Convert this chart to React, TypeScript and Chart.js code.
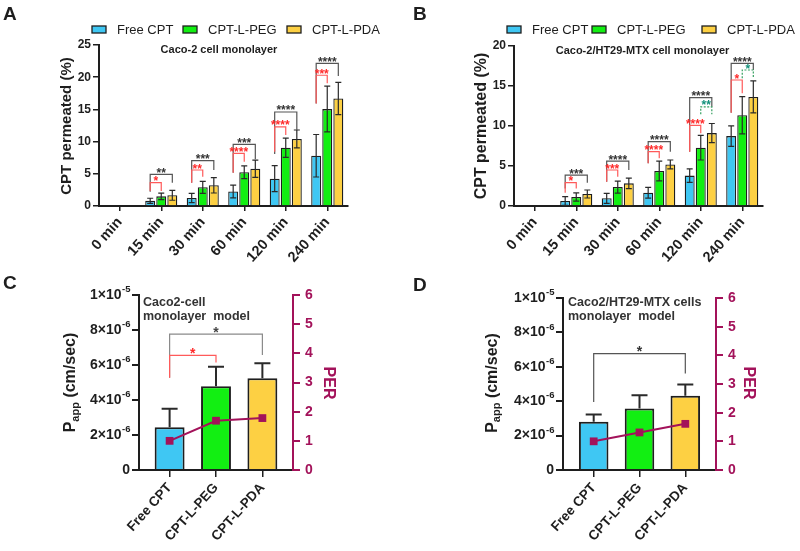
import React, { useEffect, useRef } from 'react';
import { Chart, registerables } from 'chart.js';

Chart.register(...registerables);

const FONT = "'Liberation Sans', Arial, Helvetica, sans-serif";
Chart.defaults.font.family = FONT;
const INK = '#1e1e1e';
const PER_COLOR = '#a3125a';

// ---------------- data ----------------
const timeLabels = ['0 min', '15 min', '30 min', '60 min', '120 min', '240 min'];
const seriesNames = ['Free CPT', 'CPT-L-PEG', 'CPT-L-PDA'];
const seriesColors = ['#3fc7f3', '#12ef12', '#fdd043'];

// Panel A: Caco-2 cell monolayer, CPT permeated (%)
const freeA = [0, 0.8, 1.24, 2.25, 4.24, 7.8];
const pegA = [0, 1.5, 2.9, 5.24, 9.05, 15.05];
const pdaA = [0, 1.66, 3.22, 5.78, 10.42, 16.7];
const freeAErr = [0, 0.4, 0.72, 1.0, 2.02, 3.3];
const pegAErr = [0, 0.5, 0.93, 1.0, 1.5, 3.55];
const pdaAErr = [0, 0.77, 1.2, 1.33, 1.38, 2.5];
const yTicksA = [0, 5, 10, 15, 20, 25];

// Panel B: Caco-2/HT29-MTX cell monolayer
const freeB = [0, 0.62, 0.96, 1.66, 3.8, 8.74];
const pegB = [0, 1.12, 2.37, 4.37, 7.29, 11.34];
const pdaB = [0, 1.5, 2.83, 5.2, 9.11, 13.63];
const freeBErr = [0, 0.55, 0.62, 0.67, 0.85, 1.28];
const pegBErr = [0, 0.52, 0.75, 1.23, 1.54, 2.32];
const pdaBErr = [0, 0.5, 0.66, 0.55, 1.2, 2.0];
const yTicksB = [0, 5, 10, 15, 20];

// significance: [time index, from series, to series, bracket top, left leg end, right leg end, label, kind]
type Sig = [number, number, number, number, number, number, string, string];
const sigA: Sig[] = [
  [1, 0, 2, 4.92, 2.23, 3.62, '**', 'k'],
  [1, 0, 1, 3.62, 2.33, 2.33, '*', 'r'],
  [2, 0, 2, 7.04, 3.62, 5.59, '***', 'k'],
  [2, 0, 1, 5.59, 3.62, 4.55, '**', 'r'],
  [3, 0, 2, 9.58, 5.18, 7.25, '***', 'k'],
  [3, 0, 1, 8.18, 5.18, 6.88, '****', 'r'],
  [4, 0, 2, 14.6, 8.07, 11.8, '****', 'k'],
  [4, 0, 1, 12.3, 8.44, 11.02, '****', 'r'],
  [5, 0, 2, 22.15, 15.9, 20.2, '****', 'k'],
  [5, 0, 1, 20.3, 15.9, 19.05, '***', 'r'],
];
const sigB: Sig[] = [
  [1, 0, 2, 3.87, 2.2, 2.92, '***', 'k'],
  [1, 0, 1, 2.92, 1.67, 2.2, '*', 'r'],
  [2, 0, 2, 5.62, 3.04, 4.5, '****', 'k'],
  [2, 0, 1, 4.5, 3.04, 3.67, '***', 'r'],
  [3, 0, 2, 8.04, 5.33, 6.79, '****', 'k'],
  [3, 0, 1, 6.79, 5.33, 5.96, '****', 'r'],
  [4, 0, 2, 13.54, 6.79, 12.4, '****', 'k'],
  [4, 1, 2, 12.4, 11.46, 11.46, '**', 'g'],
  [4, 0, 1, 10.08, 6.79, 9.08, '****', 'r'],
  [5, 0, 2, 17.83, 11.67, 17.0, '****', 'k'],
  [5, 1, 2, 17.0, 15.96, 15.96, '*', 'g'],
  [5, 0, 1, 15.75, 11.67, 14.08, '*', 'r'],
];

// Panels C and D: Papp (cm/sec) bars and PER line
const cellLabels = ['Free CPT', 'CPT-L-PEG', 'CPT-L-PDA'];
const pappC = [2.45e-6, 4.78e-6, 5.25e-6];
const pappCErr = [1.05e-6, 1.12e-6, 0.85e-6];
const perC = [1.0, 1.69, 1.78];
const pappD = [2.8e-6, 3.58e-6, 4.31e-6];
const pappDErr = [0.43e-6, 0.77e-6, 0.66e-6];
const perD = [1.0, 1.31, 1.61];
const pappTicks = [0, 2e-6, 4e-6, 6e-6, 8e-6, 1e-5];
const perTicks = [0, 1, 2, 3, 4, 5, 6];
// [from bar, to bar, bracket top, left leg end, right leg end, label, kind]
type CellSig = [number, number, number, number, number, string, string];
const sigC: CellSig[] = [
  [0, 2, 7.77e-6, 5.27e-6, 6.57e-6, '*', 'k2'],
  [0, 1, 6.55e-6, 5.27e-6, 6.15e-6, '*', 'r'],
];
const sigD: CellSig[] = [[0, 2, 6.77e-6, 3.96e-6, 5.61e-6, '*', 'k']];

// ---------------- drawing helpers ----------------
const BR_STYLE: Record<string, { line: string; text: string; dash: number[] }> = {
  k: { line: '#555', text: '#333', dash: [] },
  k2: { line: '#8a8a8a', text: '#444', dash: [] },
  r: { line: '#ff5a5a', text: '#ff2a2a', dash: [] },
  g: { line: '#35a060', text: '#12917a', dash: [2, 1.5] },
};

interface TextItem {
  t: string; x: number; y: number; size: number; bold?: boolean; color?: string;
  align?: CanvasTextAlign; rot?: number;
}
interface Bracket { ds1: number; i1: number; ds2: number; i2: number; top: number; lb: number; rb: number; label: string; kind: string; size: number }
interface Decor {
  errors: { ds: number; values: number[]; twoSided: boolean; cap: number; width: number }[];
  brackets: Bracket[];
  texts: TextItem[];
  legend?: { xs: number[]; y: number };
  sci?: boolean;
  subTitle?: { x: number; y: number };
}

function drawText(ctx: CanvasRenderingContext2D, it: TextItem) {
  ctx.save();
  ctx.font = `${it.bold ? 'bold ' : ''}${it.size}px ${FONT}`;
  ctx.fillStyle = it.color || INK;
  ctx.textAlign = it.align || 'left';
  ctx.textBaseline = 'alphabetic';
  ctx.translate(it.x, it.y);
  if (it.rot) ctx.rotate(it.rot);
  ctx.fillText(it.t, 0, 0);
  ctx.restore();
}

function valueOf(raw: any) {
  return typeof raw === 'number' ? raw : raw.y;
}

function decorPlugin(d: Decor) {
  return {
    id: 'decor',
    afterDatasetDraw(chart: any, args: any) {
      const ctx: CanvasRenderingContext2D = chart.ctx;
      d.errors.filter((e) => e.ds === args.index).forEach((e) => {
        const meta = chart.getDatasetMeta(e.ds);
        const ys = chart.scales[meta.yAxisID];
        ctx.save();
        ctx.strokeStyle = '#2a2a2a';
        ctx.lineWidth = e.width;
        meta.data.forEach((bar: any, i: number) => {
          const err = e.values[i];
          if (!err) return;
          const v = valueOf(chart.data.datasets[e.ds].data[i]);
          const yTop = ys.getPixelForValue(v + err);
          const yBot = ys.getPixelForValue(e.twoSided ? Math.max(v - err, 0) : v);
          ctx.beginPath();
          ctx.moveTo(bar.x, yBot);
          ctx.lineTo(bar.x, yTop);
          ctx.moveTo(bar.x - e.cap, yTop);
          ctx.lineTo(bar.x + e.cap, yTop);
          if (e.twoSided) {
            ctx.moveTo(bar.x - e.cap, yBot);
            ctx.lineTo(bar.x + e.cap, yBot);
          }
          ctx.stroke();
        });
        ctx.restore();
      });
    },
    afterDatasetsDraw(chart: any) {
      const ctx: CanvasRenderingContext2D = chart.ctx;
      d.brackets.forEach((b) => {
        const m1 = chart.getDatasetMeta(b.ds1);
        const m2 = chart.getDatasetMeta(b.ds2);
        const ys = chart.scales[m1.yAxisID];
        const x1 = m1.data[b.i1].x;
        const x2 = m2.data[b.i2].x;
        const yT = ys.getPixelForValue(b.top);
        const yL = ys.getPixelForValue(b.lb);
        const yR = ys.getPixelForValue(b.rb);
        const st = BR_STYLE[b.kind];
        ctx.save();
        ctx.strokeStyle = st.line;
        ctx.lineWidth = 1.2;
        ctx.setLineDash(st.dash);
        ctx.beginPath();
        ctx.moveTo(x1, yL);
        ctx.lineTo(x1, yT);
        ctx.lineTo(x2, yT);
        ctx.lineTo(x2, yR);
        ctx.stroke();
        ctx.restore();
        drawText(ctx, { t: b.label, x: (x1 + x2) / 2, y: yT + 2.5, size: b.size, bold: true, color: st.text, align: 'center' });
      });
    },
    afterDraw(chart: any) {
      const ctx: CanvasRenderingContext2D = chart.ctx;
      d.texts.forEach((t) => drawText(ctx, t));
      if (d.legend) {
        const { xs, y } = d.legend;
        seriesNames.forEach((name, k) => {
          const x = xs[k];
          ctx.save();
          ctx.fillStyle = seriesColors[k];
          ctx.fillRect(x, y - 3.5, 14, 7);
          ctx.strokeStyle = INK;
          ctx.lineWidth = 1.3;
          ctx.strokeRect(x, y - 3.5, 14, 7);
          ctx.font = `13px ${FONT}`;
          ctx.fillStyle = INK;
          ctx.textBaseline = 'middle';
          ctx.textAlign = 'left';
          ctx.fillText(name, x + 25, y + 0.5);
          ctx.restore();
        });
      }
      if (d.sci) {
        const s = chart.scales.y;
        s.ticks.forEach((tk: any) => {
          const v = tk.value;
          const y = s.getPixelForValue(v);
          const xr = chart.chartArea.left - 9;
          ctx.save();
          ctx.fillStyle = INK;
          ctx.textBaseline = 'middle';
          ctx.textAlign = 'left';
          if (v === 0) {
            ctx.font = `bold 14px ${FONT}`;
            ctx.textAlign = 'right';
            ctx.fillText('0', xr, y);
          } else {
            const exp = Math.floor(Math.log10(v) + 1e-9);
            const mant = Math.round(v / Math.pow(10, exp));
            const main = `${mant}\u00d710`;
            const sup = `${exp}`;
            ctx.font = `bold 9.5px ${FONT}`;
            const ws = ctx.measureText(sup).width;
            ctx.font = `bold 14px ${FONT}`;
            const wm = ctx.measureText(main).width;
            const x0 = xr - ws - wm;
            ctx.fillText(main, x0, y);
            ctx.font = `bold 9.5px ${FONT}`;
            ctx.fillText(sup, x0 + wm + 0.5, y - 5.5);
          }
          ctx.restore();
        });
      }
      if (d.subTitle) {
        const { x, y } = d.subTitle;
        ctx.save();
        ctx.translate(x, y);
        ctx.rotate(-Math.PI / 2);
        ctx.fillStyle = INK;
        ctx.textBaseline = 'alphabetic';
        ctx.textAlign = 'left';
        const big = `bold 16px ${FONT}`;
        const small = `bold 11px ${FONT}`;
        ctx.font = big;
        const wP = ctx.measureText('P').width;
        const wRest = ctx.measureText(' (cm/sec)').width;
        ctx.font = small;
        const wS = ctx.measureText('app').width;
        let cx = -(wP + wS + wRest) / 2;
        ctx.font = big;
        ctx.fillText('P', cx, 0);
        cx += wP;
        ctx.font = small;
        ctx.fillText('app', cx, 3.5);
        cx += wS;
        ctx.font = big;
        ctx.fillText(' (cm/sec)', cx, 0);
        ctx.restore();
      }
    },
  };
}

// ---------------- chart builders ----------------
interface TimePanel {
  values: number[][]; errors: number[][]; yMax: number; yTicks: number[];
  yWidth: number; padRight: number; top: number; xHeight: number;
  sig: Sig[]; texts: TextItem[]; legendXs: number[];
}

function makeTimeChart(p: TimePanel): any {
  const decor: Decor = {
    errors: p.errors.map((vals, k) => ({ ds: k, values: vals, twoSided: true, cap: 3, width: 1.2 })),
    brackets: p.sig.map((s) => ({ ds1: s[1], i1: s[0], ds2: s[2], i2: s[0], top: s[3], lb: s[4], rb: s[5], label: s[6], kind: s[7], size: 12 })),
    texts: p.texts,
    legend: { xs: p.legendXs, y: 29.5 },
  };
  return {
    type: 'bar',
    data: {
      labels: timeLabels,
      datasets: seriesNames.map((name, k) => ({
        label: name,
        data: p.values[k],
        backgroundColor: seriesColors[k],
        borderColor: INK,
        borderWidth: 1.3,
        categoryPercentage: 0.8,
        barPercentage: 0.9,
      })),
    },
    options: {
      responsive: false,
      animation: false,
      devicePixelRatio: 1,
      layout: { padding: { left: 0, right: p.padRight, top: p.top, bottom: 0 } },
      plugins: { legend: { display: false }, tooltip: { enabled: false }, title: { display: false } },
      scales: {
        x: {
          offset: true,
          grid: { display: true, drawOnChartArea: false, drawTicks: true, tickLength: 5, offset: false, color: INK, lineWidth: 1.5 },
          border: { display: true, color: INK, width: 2 },
          ticks: { autoSkip: false, minRotation: 48, maxRotation: 48, padding: 3, color: INK, font: { family: FONT, size: 14.5, weight: 'bold' } },
          afterFit: (s: any) => { s.height = p.xHeight; },
        },
        y: {
          min: 0,
          max: p.yMax,
          afterBuildTicks: (s: any) => { s.ticks = p.yTicks.map((v) => ({ value: v })); },
          grid: { display: true, drawOnChartArea: false, drawTicks: true, tickLength: 6, color: INK, lineWidth: 1.5 },
          border: { display: true, color: INK, width: 2 },
          ticks: { padding: 2, color: INK, font: { family: FONT, size: 12, weight: 'bold' } },
          afterFit: (s: any) => { s.width = p.yWidth; },
        },
      },
    },
    plugins: [decorPlugin(decor)],
  };
}

interface CellPanel {
  papp: number[]; err: number[]; per: number[]; xMin: number; xMax: number;
  yWidth: number; y1Width: number; top: number; xHeight: number;
  sig: CellSig[]; texts: TextItem[]; subTitle: { x: number; y: number };
}

function makeCellChart(p: CellPanel): any {
  const decor: Decor = {
    errors: [{ ds: 0, values: p.err, twoSided: false, cap: 8, width: 2 }],
    brackets: p.sig.map((s) => ({ ds1: 0, i1: s[0], ds2: 0, i2: s[1], top: s[2], lb: s[3], rb: s[4], label: s[5], kind: s[6], size: 14 })),
    texts: p.texts,
    sci: true,
    subTitle: p.subTitle,
  };
  return {
    type: 'bar',
    data: {
      datasets: [
        {
          type: 'bar',
          label: 'Papp',
          data: p.papp.map((v, i) => ({ x: i, y: v })),
          yAxisID: 'y',
          backgroundColor: seriesColors,
          borderColor: INK,
          borderWidth: 2,
          categoryPercentage: 1,
          barPercentage: 0.645,
          order: 2,
        },
        {
          type: 'line',
          label: 'PER',
          data: p.per.map((v, i) => ({ x: i, y: v })),
          yAxisID: 'y1',
          borderColor: PER_COLOR,
          backgroundColor: PER_COLOR,
          borderWidth: 2,
          pointStyle: 'rect',
          pointRadius: 5.5,
          pointBorderWidth: 0,
          order: 1,
        },
      ],
    },
    options: {
      responsive: false,
      animation: false,
      devicePixelRatio: 1,
      layout: { padding: { left: 0, right: 0, top: p.top, bottom: 0 } },
      plugins: { legend: { display: false }, tooltip: { enabled: false }, title: { display: false } },
      scales: {
        x: {
          type: 'linear',
          min: p.xMin,
          max: p.xMax,
          offset: false,
          afterBuildTicks: (s: any) => { s.ticks = cellLabels.map((_, i) => ({ value: i })); },
          grid: { display: true, drawOnChartArea: false, drawTicks: true, tickLength: 7, offset: false, color: INK, lineWidth: 1.5 },
          border: { display: true, color: INK, width: 2 },
          ticks: {
            autoSkip: false, minRotation: 48, maxRotation: 48, padding: 3, color: INK,
            font: { family: FONT, size: 13.5, weight: 'bold' },
            callback: (v: any) => cellLabels[Math.round(v)] ?? '',
          },
          afterFit: (s: any) => { s.height = p.xHeight; },
        },
        y: {
          type: 'linear',
          position: 'left',
          min: 0,
          max: 1e-5,
          afterBuildTicks: (s: any) => { s.ticks = pappTicks.map((v) => ({ value: v })); },
          grid: { display: true, drawOnChartArea: false, drawTicks: true, tickLength: 7, color: INK, lineWidth: 2 },
          border: { display: true, color: INK, width: 2 },
          ticks: { display: false },
          afterFit: (s: any) => { s.width = p.yWidth; },
        },
        y1: {
          type: 'linear',
          position: 'right',
          min: 0,
          max: 6,
          afterBuildTicks: (s: any) => { s.ticks = perTicks.map((v) => ({ value: v })); },
          grid: { display: true, drawOnChartArea: false, drawTicks: true, tickLength: 7, color: PER_COLOR, lineWidth: 2 },
          border: { display: true, color: PER_COLOR, width: 2 },
          ticks: { padding: 5, color: PER_COLOR, font: { family: FONT, size: 14, weight: 'bold' } },
          afterFit: (s: any) => { s.width = p.y1Width; },
        },
      },
    },
    plugins: [decorPlugin(decor)],
  };
}

const makeA = () =>
  makeTimeChart({
    values: [freeA, pegA, pdaA],
    errors: [freeAErr, pegAErr, pdaAErr],
    yMax: 25,
    yTicks: yTicksA,
    yWidth: 99,
    padRight: 52,
    top: 45,
    xHeight: 69,
    sig: sigA,
    legendXs: [92, 183, 287],
    texts: [
      { t: 'A', x: 3, y: 20, size: 19, bold: true },
      { t: 'Caco-2 cell monolayer', x: 219, y: 53, size: 11, bold: true, align: 'center' },
      { t: 'CPT permeated (%)', x: 71, y: 126, size: 15, bold: true, align: 'center', rot: -Math.PI / 2 },
    ],
  });

const makeB = () =>
  makeTimeChart({
    values: [freeB, pegB, pdaB],
    errors: [freeBErr, pegBErr, pdaBErr],
    yMax: 20,
    yTicks: yTicksB,
    yWidth: 114,
    padRight: 37,
    top: 46,
    xHeight: 69,
    sig: sigB,
    legendXs: [107, 192, 302],
    texts: [
      { t: 'B', x: 13, y: 20, size: 19, bold: true },
      { t: 'Caco-2/HT29-MTX cell monolayer', x: 242.5, y: 53.5, size: 11, bold: true, align: 'center' },
      { t: 'CPT permeated (%)', x: 86, y: 126, size: 16, bold: true, align: 'center', rot: -Math.PI / 2 },
    ],
  });

const makeC = () =>
  makeCellChart({
    papp: pappC,
    err: pappCErr,
    per: perC,
    xMin: -0.66,
    xMax: 2.66,
    yWidth: 139,
    y1Width: 107,
    top: 20,
    xHeight: 81,
    sig: sigC,
    subTitle: { x: 75, y: 107.5 },
    texts: [
      { t: 'C', x: 3, y: 13.5, size: 19, bold: true },
      { t: 'Caco2-cell', x: 143, y: 31, size: 12.5, bold: true, color: '#333' },
      { t: 'monolayer  model', x: 143, y: 45, size: 12.5, bold: true, color: '#333' },
      { t: 'PER', x: 323.5, y: 108, size: 16, bold: true, color: PER_COLOR, align: 'center', rot: Math.PI / 2 },
    ],
  });

const makeD = () =>
  makeCellChart({
    papp: pappD,
    err: pappDErr,
    per: perD,
    xMin: -0.67,
    xMax: 2.67,
    yWidth: 163,
    y1Width: 84,
    top: 23,
    xHeight: 81,
    sig: sigD,
    subTitle: { x: 96.5, y: 108 },
    texts: [
      { t: 'D', x: 13, y: 16, size: 19, bold: true },
      { t: 'Caco2/HT29-MTX cells', x: 168, y: 31, size: 12.5, bold: true, color: '#333' },
      { t: 'monolayer  model', x: 168, y: 45, size: 12.5, bold: true, color: '#333' },
      { t: 'PER', x: 344, y: 108, size: 16, bold: true, color: PER_COLOR, align: 'center', rot: Math.PI / 2 },
    ],
  });

function Panel({ x, y, w, h, make }: { x: number; y: number; w: number; h: number; make: () => any }) {
  const ref = useRef<HTMLCanvasElement>(null);
  useEffect(() => {
    if (!ref.current) return;
    const chart = new Chart(ref.current, make());
    return () => chart.destroy();
  }, [make]);
  return (
    <canvas
      ref={ref}
      width={w}
      height={h}
      style={{ position: 'absolute', left: x, top: y, width: w, height: h, display: 'block' }}
    />
  );
}

export default function App() {
  return (
    <div style={{ position: 'absolute', left: 0, top: 0, width: 800, height: 551, background: '#fff', overflow: 'hidden' }}>
      <Panel x={0} y={0} w={400} h={275} make={makeA} />
      <Panel x={400} y={0} w={400} h={275} make={makeB} />
      <Panel x={0} y={275} w={400} h={276} make={makeC} />
      <Panel x={400} y={275} w={400} h={276} make={makeD} />
    </div>
  );
}
